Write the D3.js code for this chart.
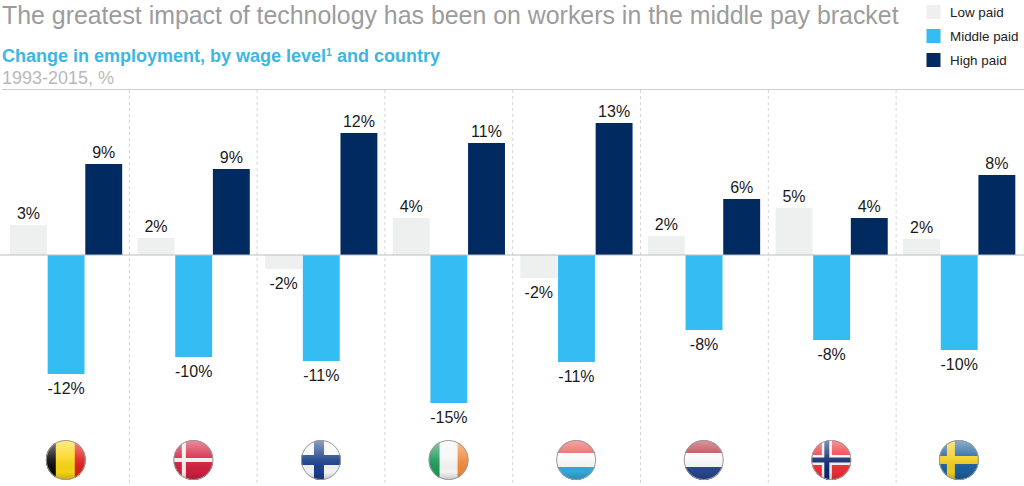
<!DOCTYPE html>
<html>
<head>
<meta charset="utf-8">
<script src="https://cdn.jsdelivr.net/npm/d3@7"></script>
<style>
  html, body { margin: 0; padding: 0; background: #fff; }
  svg { display: block; font-family: "Liberation Sans", Arial, sans-serif; }
</style>
</head>
<body>
<svg id="chart" width="1024" height="486"></svg>
<script>
// Values
const countries = ['Belgium', 'Denmark', 'Finland', 'Ireland', 'Luxembourg', 'Netherlands', 'Norway', 'Sweden'];
const seriesNames = ['Low paid', 'Middle paid', 'High paid'];
const lowPaid = [3.0, 1.7, -1.4, 3.7, -2.3, 1.9, 4.7, 1.6];
const middlePaid = [-11.9, -10.2, -10.6, -14.8, -10.7, -7.5, -8.5, -9.5];
const highPaid = [9.1, 8.6, 12.2, 11.2, 13.2, 5.6, 3.7, 8.0];
const lowLabels = ['3%', '2%', '-2%', '4%', '-2%', '2%', '5%', '2%'];
const middleLabels = ['-12%', '-10%', '-11%', '-15%', '-11%', '-8%', '-8%', '-10%'];
const highLabels = ['9%', '9%', '12%', '11%', '13%', '6%', '4%', '8%'];
const seriesColors = ['#eeefef', '#35bcf2', '#012a61'];

const svg = d3.select('#chart');

const x = d3.scaleBand().domain(countries).range([1.5, 1022.2]);
const sepX = d3.scaleBand().domain(countries).range([1.5, 1023.9]);
const inner = d3.scaleBand().domain(seriesNames).range([8.5, 120.7]).paddingInner(0.02);
const y = d3.scaleLinear().domain([0, 10]).range([255, 155]);

// Title block
svg.append('text').attr('x', 2).attr('y', 24)
  .attr('font-size', 24.9).attr('fill', '#9c9c9c')
  .text('The greatest impact of technology has been on workers in the middle pay bracket');

const sub = svg.append('text').attr('x', 2).attr('y', 62)
  .attr('font-size', 18).attr('font-weight', 'bold').attr('fill', '#3cb6e3');
sub.append('tspan').text('Change in employment, by wage level');
sub.append('tspan').attr('font-size', 10.5).attr('dy', -6).text('1');
sub.append('tspan').attr('dy', 6).text(' and country');

svg.append('text').attr('x', 2).attr('y', 84)
  .attr('font-size', 18).attr('fill', '#b9b9b9')
  .text('1993-2015, %');

// Legend
const legendY = d3.scalePoint().domain(seriesNames).range([12, 60]);
const legend = svg.append('g');
seriesNames.forEach((name, i) => {
  legend.append('rect')
    .attr('x', 926.5).attr('y', legendY(name) - 7)
    .attr('width', 14).attr('height', 14)
    .attr('fill', seriesColors[i]);
  legend.append('text')
    .attr('x', 950).attr('y', legendY(name) + 5)
    .attr('font-size', 13.4).attr('fill', '#222')
    .text(name);
});

// Top rule and dashed column separators
svg.append('line')
  .attr('x1', 2).attr('x2', 1024).attr('y1', 89.5).attr('y2', 89.5)
  .attr('stroke', '#cfcfcf').attr('stroke-width', 1);

svg.selectAll('.sep')
  .data(countries.slice(1))
  .enter().append('line')
  .attr('class', 'sep')
  .attr('x1', d => sepX(d)).attr('x2', d => sepX(d))
  .attr('y1', 90).attr('y2', 486)
  .attr('stroke', '#d4d4d4').attr('stroke-width', 1)
  .attr('stroke-dasharray', '3,3');

// Bars and their labels
const seriesValues = [lowPaid, middlePaid, highPaid];
const seriesLabels = [lowLabels, middleLabels, highLabels];

seriesNames.forEach((name, s) => {
  const rows = countries.map((c, i) => ({ c, v: seriesValues[s][i], label: seriesLabels[s][i] }));

  svg.selectAll(`.bar-${s}`)
    .data(rows)
    .enter().append('rect')
    .attr('class', `bar-${s}`)
    .attr('x', d => x(d.c) + inner(name))
    .attr('width', inner.bandwidth())
    .attr('y', d => Math.min(y(d.v), y(0)))
    .attr('height', d => Math.abs(y(d.v) - y(0)))
    .attr('fill', seriesColors[s]);

  svg.selectAll(`.lab-${s}`)
    .data(rows)
    .enter().append('text')
    .attr('class', `lab-${s}`)
    .attr('x', d => x(d.c) + inner(name) + inner.bandwidth() / 2)
    .attr('y', d => d.v >= 0 ? y(d.v) - 6 : y(d.v) + 19.5)
    .attr('text-anchor', 'middle')
    .attr('font-size', 16).attr('fill', '#1a1a1a')
    .text(d => d.label);
});

// Baseline
svg.append('line')
  .attr('x1', 0).attr('x2', 1024).attr('y1', 255).attr('y2', 255)
  .attr('stroke', '#bdbdbd').attr('stroke-width', 1);

// Flags: stripes and crosses in a 40x40 box, clipped to a circle
const flags = {
  Belgium: { bg: '#f9d616', v: [[0, 10, '#0a0a0a'], [29, 11, '#e0201c']] },
  Denmark: { bg: '#d3203f', cross: [['#f6f0f0', 10.5, 4]] },
  Finland: { bg: '#f4f6f8', cross: [['#1b3f8b', 18, 10]] },
  Ireland: { bg: '#f7f7f5', v: [[0, 11, '#1e9a5c'], [29, 11, '#f08a3c']] },
  Luxembourg: { bg: '#fbfbfb', h: [[0, 13, '#e8524f'], [27, 13, '#35a9dc']] },
  Netherlands: { bg: '#fbfbfb', h: [[0, 13, '#b8323f'], [27, 13, '#28478f']] },
  Norway: { bg: '#ee2f35', cross: [['#f6f6f6', 15.5, 10], ['#10296f', 15.5, 5]] },
  Sweden: { bg: '#1c5f9f', cross: [['#f1cd1c', 12, 8]] }
};

const defs = svg.append('defs');
defs.append('clipPath').attr('id', 'flag-clip')
  .append('circle').attr('cx', 20).attr('cy', 20).attr('r', 20);
const gloss = defs.append('linearGradient').attr('id', 'gloss')
  .attr('x1', 0).attr('x2', 0).attr('y1', 0).attr('y2', 1);
gloss.append('stop').attr('offset', 0).attr('stop-color', '#fff').attr('stop-opacity', 0.5);
gloss.append('stop').attr('offset', 0.45).attr('stop-color', '#fff').attr('stop-opacity', 0.12);
gloss.append('stop').attr('offset', 0.8).attr('stop-color', '#000').attr('stop-opacity', 0.02);
gloss.append('stop').attr('offset', 1).attr('stop-color', '#000').attr('stop-opacity', 0.2);

countries.forEach(c => {
  const f = flags[c];
  const g = svg.append('g')
    .attr('transform', `translate(${x(c) + x.bandwidth() / 2 - 19.5},440)`);
  const clip = g.append('g').attr('clip-path', 'url(#flag-clip)');
  clip.append('rect').attr('width', 40).attr('height', 40).attr('fill', f.bg);
  (f.v || []).forEach(([at, w, col]) => clip.append('rect')
    .attr('x', at).attr('width', w).attr('height', 40).attr('fill', col));
  (f.h || []).forEach(([at, h, col]) => clip.append('rect')
    .attr('y', at).attr('width', 40).attr('height', h).attr('fill', col));
  (f.cross || []).forEach(([col, mid, w]) => {
    clip.append('rect').attr('x', mid - w / 2).attr('width', w).attr('height', 40).attr('fill', col);
    clip.append('rect').attr('y', 20 - w / 2).attr('width', 40).attr('height', w).attr('fill', col);
  });
  clip.append('rect').attr('width', 40).attr('height', 40).attr('fill', 'url(#gloss)');
  g.append('circle').attr('cx', 20).attr('cy', 20).attr('r', 19.5)
    .attr('fill', 'none').attr('stroke', '#9a9a9a').attr('stroke-width', 1);
});
</script>
</body>
</html>
